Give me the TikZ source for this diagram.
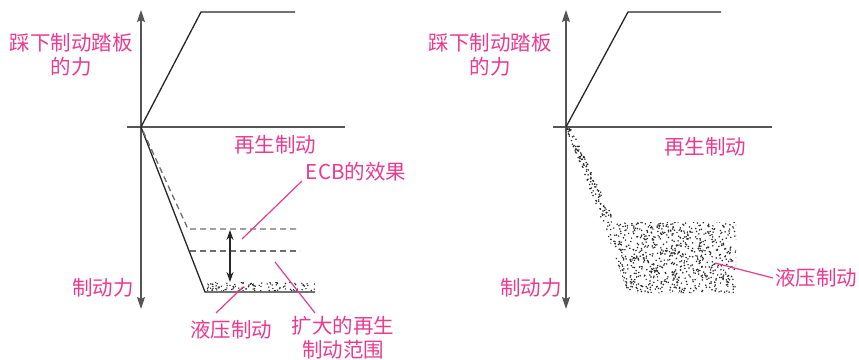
\documentclass[tikz,border=0pt]{standalone}
\usepackage{fontspec}
\newfontfamily\cjk{Noto Sans CJK SC}
\usetikzlibrary{arrows.meta}
\definecolor{lbl}{RGB}{234,58,142}
\definecolor{axisgray}{RGB}{85,85,85}
\definecolor{dashgray}{RGB}{110,110,110}
\begin{document}
\begin{tikzpicture}[x=1pt,y=-1pt,
  axis/.style={draw=axisgray, line width=1.5pt},
  axisarrow/.style={axis, -{Stealth[length=12pt,width=8pt,inset=2pt]}},
  curve/.style={draw=black!85, line width=1.3pt},
  dashline/.style={draw=dashgray, line width=1.3pt, dash pattern=on 6pt off 4pt},
  lead/.style={draw=lbl, line width=1.2pt},
  lab/.style={text=lbl, font=\cjk\fontsize{20.5}{24}\selectfont, inner sep=0pt, align=center},
  speck/.style={fill=black!85}]
\useasboundingbox (0,0) rectangle (859,359);
\pgfmathsetseed{7}

% ---------------- left chart ----------------
\coordinate (Lo) at (141,127);
\coordinate (Ltop) at (141,10);
\coordinate (Lbot) at (141,309);
\draw[axisarrow] (Lo) -- (Ltop);
\draw[axisarrow] (Lo) -- (Lbot);
\draw[axis] (127,127) -- (345,127);

\coordinate (Lp1) at (201,12);
\coordinate (Lp2) at (295,12);
\draw[curve] (Lo) -- (Lp1) -- (Lp2);

\coordinate (Lq1) at (205,292);
\coordinate (Lq2) at (315,292);
\draw[curve] (Lo) -- (Lq1) -- (Lq2);

\coordinate (Ld0) at (143,131);
\coordinate (Ld1) at (188,229);
\coordinate (Ld2) at (300,229);
\coordinate (Ld3) at (190,251);
\coordinate (Ld4) at (300,251);
\draw[dashline] (Ld0) -- (Ld1) -- (Ld2);
\draw[dashline] (Ld3) -- (Ld4);

\coordinate (La1) at (230,230);
\coordinate (La2) at (230,282);
\draw[black!85, line width=1.2pt, {Stealth[length=10pt,width=7pt]}-{Stealth[length=10pt,width=7pt]}] (La1) -- (La2);

% thin hydraulic band
\begin{scope}
\clip (208,282) -- (315,282) -- (315,291) -- (205,291) -- cycle;
\foreach \i in {1,...,110}{
  \pgfmathsetmacro\px{204+rnd*112}
  \pgfmathsetmacro\py{282+rnd*9}
  \fill[speck] (\px,\py) circle (0.8pt);
}
\end{scope}

% labels left
\node[lab] (Lpedal) at (71,55) {踩下制动踏板\\的力};
\node[lab] (Lregen) at (275,145) {再生制动};
\node[lab] (Lbrake) at (103,288) {制动力};
\node[lab] (Lecb) at (356,172) {ECB的效果};
\node[lab] (Lhyd) at (231,330) {液压制动};
\node[lab] (Lext) at (343,338) {扩大的再生\\制动范围};

\coordinate (Le1) at (302,181);
\coordinate (Le2) at (242,239);
\draw[lead] (Le1) -- (Le2);
\coordinate (Lh1) at (243,287);
\coordinate (Lh2) at (216,313);
\draw[lead] (Lh1) -- (Lh2);
\coordinate (Lx1) at (275,262);
\coordinate (Lx2) at (315,313);
\draw[lead] (Lx1) -- (Lx2);

% ---------------- right chart ----------------
\coordinate (Ro) at (566,127);
\coordinate (Rtop) at (566,10);
\coordinate (Rbot) at (566,309);
\draw[axisarrow] (Ro) -- (Rtop);
\draw[axisarrow] (Ro) -- (Rbot);
\draw[axis] (553,127) -- (772,127);

\coordinate (Rp1) at (628,12);
\coordinate (Rp2) at (721,12);
\draw[curve] (Ro) -- (Rp1) -- (Rp2);

% hydraulic dotted region
\begin{scope}
\clip (603,222) -- (736,222) -- (736,293) -- (628,293) -- cycle;
\foreach \i in {1,...,900}{
  \pgfmathsetmacro\px{600+rnd*138}
  \pgfmathsetmacro\py{221+rnd*73}
  \fill[speck] (\px,\py) circle (0.85pt);
}
\end{scope}
\foreach \i in {1,...,130}{
  \pgfmathsetmacro\t{rnd}
  \pgfmathsetmacro\py{128+\t*95}
  \pgfmathsetmacro\px{566+\t*37+rnd*(5+\t*7)}
  \fill[speck] (\px,\py) circle (0.85pt);
}

% labels right
\node[lab] (Rpedal) at (490,55) {踩下制动踏板\\的力};
\node[lab] (Rregen) at (705,147) {再生制动};
\node[lab] (Rbrake) at (531,288) {制动力};
\node[lab] (Rhyd) at (816,278) {液压制动};

\coordinate (Rh1) at (715,263);
\coordinate (Rh2) at (773,278);
\draw[lead] (Rh1) -- (Rh2);
\end{tikzpicture}
\end{document}
